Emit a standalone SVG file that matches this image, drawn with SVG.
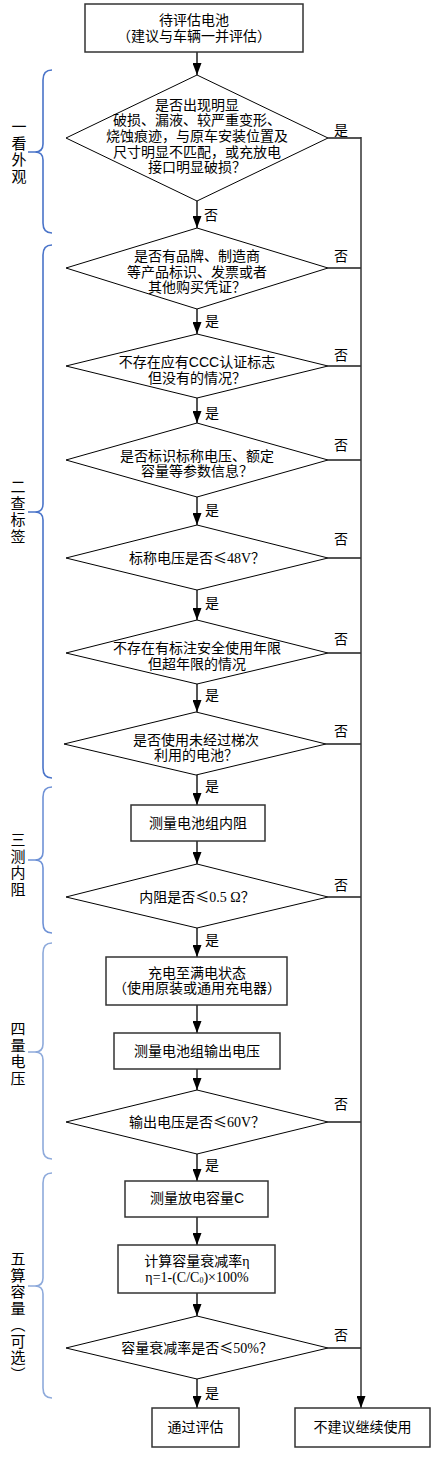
<svg xmlns="http://www.w3.org/2000/svg" width="433" height="1467" viewBox="0 0 433 1467">
<defs>
<marker id="arr" viewBox="0 0 12 9" refX="12" refY="4.5" markerWidth="12" markerHeight="9" markerUnits="userSpaceOnUse" orient="auto">
<path d="M0,0 L12,4.5 L0,9 z" fill="#000"/>
</marker>
<style>
text{font-family:"Liberation Sans","Noto Sans CJK SC",sans-serif;font-size:14px;fill:#000;text-anchor:middle}
.n{font-family:"Liberation Serif","Noto Sans CJK SC",serif}
.le{font-family:"Noto Sans CJK SC",sans-serif}
.box{fill:#fff;stroke:#333;stroke-width:1.5}
.dia{fill:#fff;stroke:#000;stroke-width:1}
.c{fill:none;stroke:#555;stroke-width:2}
.cr{fill:none;stroke:#333;stroke-width:1.5}
.br{fill:none;stroke-width:1.6}
.lbl{font-size:15px;writing-mode:vertical-rl;text-anchor:start;letter-spacing:1.5px}
.yn{font-size:14px}
</style>
</defs>
<rect width="433" height="1467" fill="#fff"/>

<g id="connectors">
<line class="c" x1="197" y1="52" x2="197" y2="75" marker-end="url(#arr)"/>
<line class="c" x1="197" y1="201" x2="197" y2="228" marker-end="url(#arr)"/>
<line class="c" x1="197" y1="309" x2="197" y2="334" marker-end="url(#arr)"/>
<line class="c" x1="197" y1="398" x2="197" y2="423" marker-end="url(#arr)"/>
<line class="c" x1="197" y1="497" x2="197" y2="525" marker-end="url(#arr)"/>
<line class="c" x1="197" y1="590" x2="197" y2="620" marker-end="url(#arr)"/>
<line class="c" x1="197" y1="684" x2="197" y2="712" marker-end="url(#arr)"/>
<line class="c" x1="197" y1="775" x2="197" y2="805" marker-end="url(#arr)"/>
<line class="c" x1="197" y1="841" x2="197" y2="864" marker-end="url(#arr)"/>
<line class="c" x1="197" y1="928" x2="197" y2="957" marker-end="url(#arr)"/>
<line class="c" x1="197" y1="1005" x2="197" y2="1033" marker-end="url(#arr)"/>
<line class="c" x1="197" y1="1069" x2="197" y2="1090" marker-end="url(#arr)"/>
<line class="c" x1="197" y1="1154" x2="197" y2="1181" marker-end="url(#arr)"/>
<line class="c" x1="197" y1="1217" x2="197" y2="1245" marker-end="url(#arr)"/>
<line class="c" x1="197" y1="1293" x2="197" y2="1316" marker-end="url(#arr)"/>
<line class="c" x1="197" y1="1379" x2="197" y2="1408" marker-end="url(#arr)"/>
<line class="c" x1="328" y1="138" x2="361" y2="138"/>
<line class="c" x1="328" y1="268" x2="361" y2="268"/>
<line class="c" x1="328" y1="366" x2="361" y2="366"/>
<line class="c" x1="328" y1="460" x2="361" y2="460"/>
<line class="c" x1="328" y1="558" x2="361" y2="558"/>
<line class="c" x1="328" y1="653" x2="361" y2="653"/>
<line class="c" x1="326" y1="744" x2="361" y2="744"/>
<line class="c" x1="328" y1="897" x2="361" y2="897"/>
<line class="c" x1="328" y1="1122" x2="361" y2="1122"/>
<line class="c" x1="328" y1="1348" x2="361" y2="1348"/>
<line class="cr" x1="361" y1="137" x2="361" y2="1408" marker-end="url(#arr)"/>
<text class="yn" x="341" y="135">是</text>
<text class="yn" x="211" y="220">否</text>
<text class="yn" x="341" y="261">否</text>
<text class="yn" x="212" y="326">是</text>
<text class="yn" x="341" y="360">否</text>
<text class="yn" x="212" y="418">是</text>
<text class="yn" x="341" y="450">否</text>
<text class="yn" x="212" y="515">是</text>
<text class="yn" x="341" y="544">否</text>
<text class="yn" x="212" y="608">是</text>
<text class="yn" x="341" y="644">否</text>
<text class="yn" x="212" y="700">是</text>
<text class="yn" x="341" y="736">否</text>
<text class="yn" x="212" y="791">是</text>
<text class="yn" x="341" y="890">否</text>
<text class="yn" x="212" y="945">是</text>
<text class="yn" x="341" y="1109">否</text>
<text class="yn" x="212" y="1170">是</text>
<text class="yn" x="341" y="1340">否</text>
<text class="yn" x="212" y="1398">是</text>
</g>

<g id="start">
<rect class="box" x="85" y="4" width="218" height="48"/>
<text x="194" y="25.2">待评估电池</text>
<text x="194" y="40.8">（建议与车辆一并评估）</text>
</g>

<g id="d1">
<polygon class="dia" points="197,75 328,138 197,201 66,138"/>
<text x="197" y="109.8">是否出现明显</text>
<text x="197" y="125.4">破损、漏液、较严重变形、</text>
<text x="197" y="141">烧蚀痕迹，与原车安装位置及</text>
<text x="197" y="156.6">尺寸明显不匹配，或充放电</text>
<text x="197" y="172.2">接口明显破损？</text>
</g>

<g id="d2">
<polygon class="dia" points="197,228 328,268 197,309 66,268"/>
<text x="197" y="261">是否有品牌、制造商</text>
<text x="197" y="276.6">等产品标识、发票或者</text>
<text x="197" y="292.2">其他购买凭证？</text>
</g>

<g id="d3">
<polygon class="dia" points="197,334 328,366 197,398 66,366"/>
<text x="197" y="367">不存在应有CCC认证标志</text>
<text x="197" y="382.6">但没有的情况？</text>
</g>

<g id="d4">
<polygon class="dia" points="197,423 328,460 197,497 66,460"/>
<text x="197" y="460.7">是否标识标称电压、额定</text>
<text x="197" y="476.3">容量等参数信息？</text>
</g>

<g id="d5">
<polygon class="dia" points="197,525 328,558 197,590 66,558"/>
<text x="197" y="563">标称电压是否<tspan class="le">≤</tspan><tspan class="n">48V</tspan>？</text>
</g>

<g id="d6">
<polygon class="dia" points="197,620 328,653 197,684 66,653"/>
<text x="197" y="653.2">不存在有标注安全使用年限</text>
<text x="197" y="668.8">但超年限的情况</text>
</g>

<g id="d7">
<polygon class="dia" points="196,712 326,744 196,775 64,744"/>
<text x="196" y="744.7">是否使用未经过梯次</text>
<text x="196" y="760.3">利用的电池？</text>
</g>

<g id="b1">
<rect class="box" x="131" y="805" width="134" height="36"/>
<text x="198" y="828">测量电池组内阻</text>
</g>

<g id="d8">
<polygon class="dia" points="197,864 328,897 197,928 66,897"/>
<text x="197" y="902">内阻是否<tspan class="le">≤</tspan><tspan class="n">0.5 Ω</tspan>？</text>
</g>

<g id="b2">
<rect class="box" x="106" y="957" width="181" height="48"/>
<text x="197" y="977.7">充电至满电状态</text>
<text x="197" y="993.3">（使用原装或通用充电器）</text>
</g>

<g id="b3">
<rect class="box" x="114" y="1033" width="166" height="36"/>
<text x="197" y="1056">测量电池组输出电压</text>
</g>

<g id="d9">
<polygon class="dia" points="197,1090 328,1122 197,1154 66,1122"/>
<text x="197" y="1127">输出电压是否<tspan class="le">≤</tspan><tspan class="n">60V</tspan>？</text>
</g>

<g id="b4">
<rect class="box" x="125" y="1181" width="143" height="36"/>
<text x="197" y="1203">测量放电容量C</text>
</g>

<g id="b5">
<rect class="box" x="118" y="1245" width="157" height="48"/>
<text x="197" y="1266.2">计算容量衰减率<tspan class="n">η</tspan></text>
<text x="197" y="1281.8" class="n">η=1-(C/C<tspan font-size="8" dy="1">0</tspan><tspan dy="-1">)×100%</tspan></text>
</g>

<g id="d10">
<polygon class="dia" points="197,1316 328,1348 197,1379 66,1348"/>
<text x="197" y="1353">容量衰减率是否<tspan class="le">≤</tspan><tspan class="n">50%</tspan>？</text>
</g>

<g id="pass">
<rect class="box" x="152" y="1408" width="87" height="39"/>
<text x="195.5" y="1432">通过评估</text>
</g>

<g id="reject">
<rect class="box" x="295" y="1408" width="135" height="39"/>
<text x="362.5" y="1432">不建议继续使用</text>
</g>

<g id="stage1">
<path class="br" stroke="#4a74c9" d="M52,70 Q43,70 43,80 L43,144 Q43,152 35,152 L28,152 L35,152 Q43,152 43,160 L43,223 Q43,233 52,233"/>
<text class="lbl" x="18" y="119">一看外观</text>
</g>
<g id="stage2">
<path class="br" stroke="#4a74c9" d="M52,245 Q43,245 43,255 L43,504 Q43,512 35,512 L28,512 L35,512 Q43,512 43,520 L43,768 Q43,778 52,778"/>
<text class="lbl" x="17" y="479">二查标签</text>
</g>
<g id="stage3">
<path class="br" stroke="#6f92d6" d="M52,787 Q43,787 43,797 L43,852 Q43,860 35,860 L28,860 L35,860 Q43,860 43,868 L43,923 Q43,933 52,933"/>
<text class="lbl" x="17" y="832">三测内阻</text>
</g>
<g id="stage4">
<path class="br" stroke="#8eaadb" d="M52,943 Q43,943 43,953 L43,1044 Q43,1052 35,1052 L28,1052 L35,1052 Q43,1052 43,1060 L43,1149 Q43,1159 52,1159"/>
<text class="lbl" x="17" y="1021">四量电压</text>
</g>
<g id="stage5">
<path class="br" stroke="#8eaadb" d="M52,1173 Q43,1173 43,1183 L43,1278 Q43,1286 35,1286 L28,1286 L35,1286 Q43,1286 43,1294 L43,1388 Q43,1398 52,1398"/>
<text class="lbl" x="17" y="1251">五算容量（可选）</text>
</g>
</svg>
